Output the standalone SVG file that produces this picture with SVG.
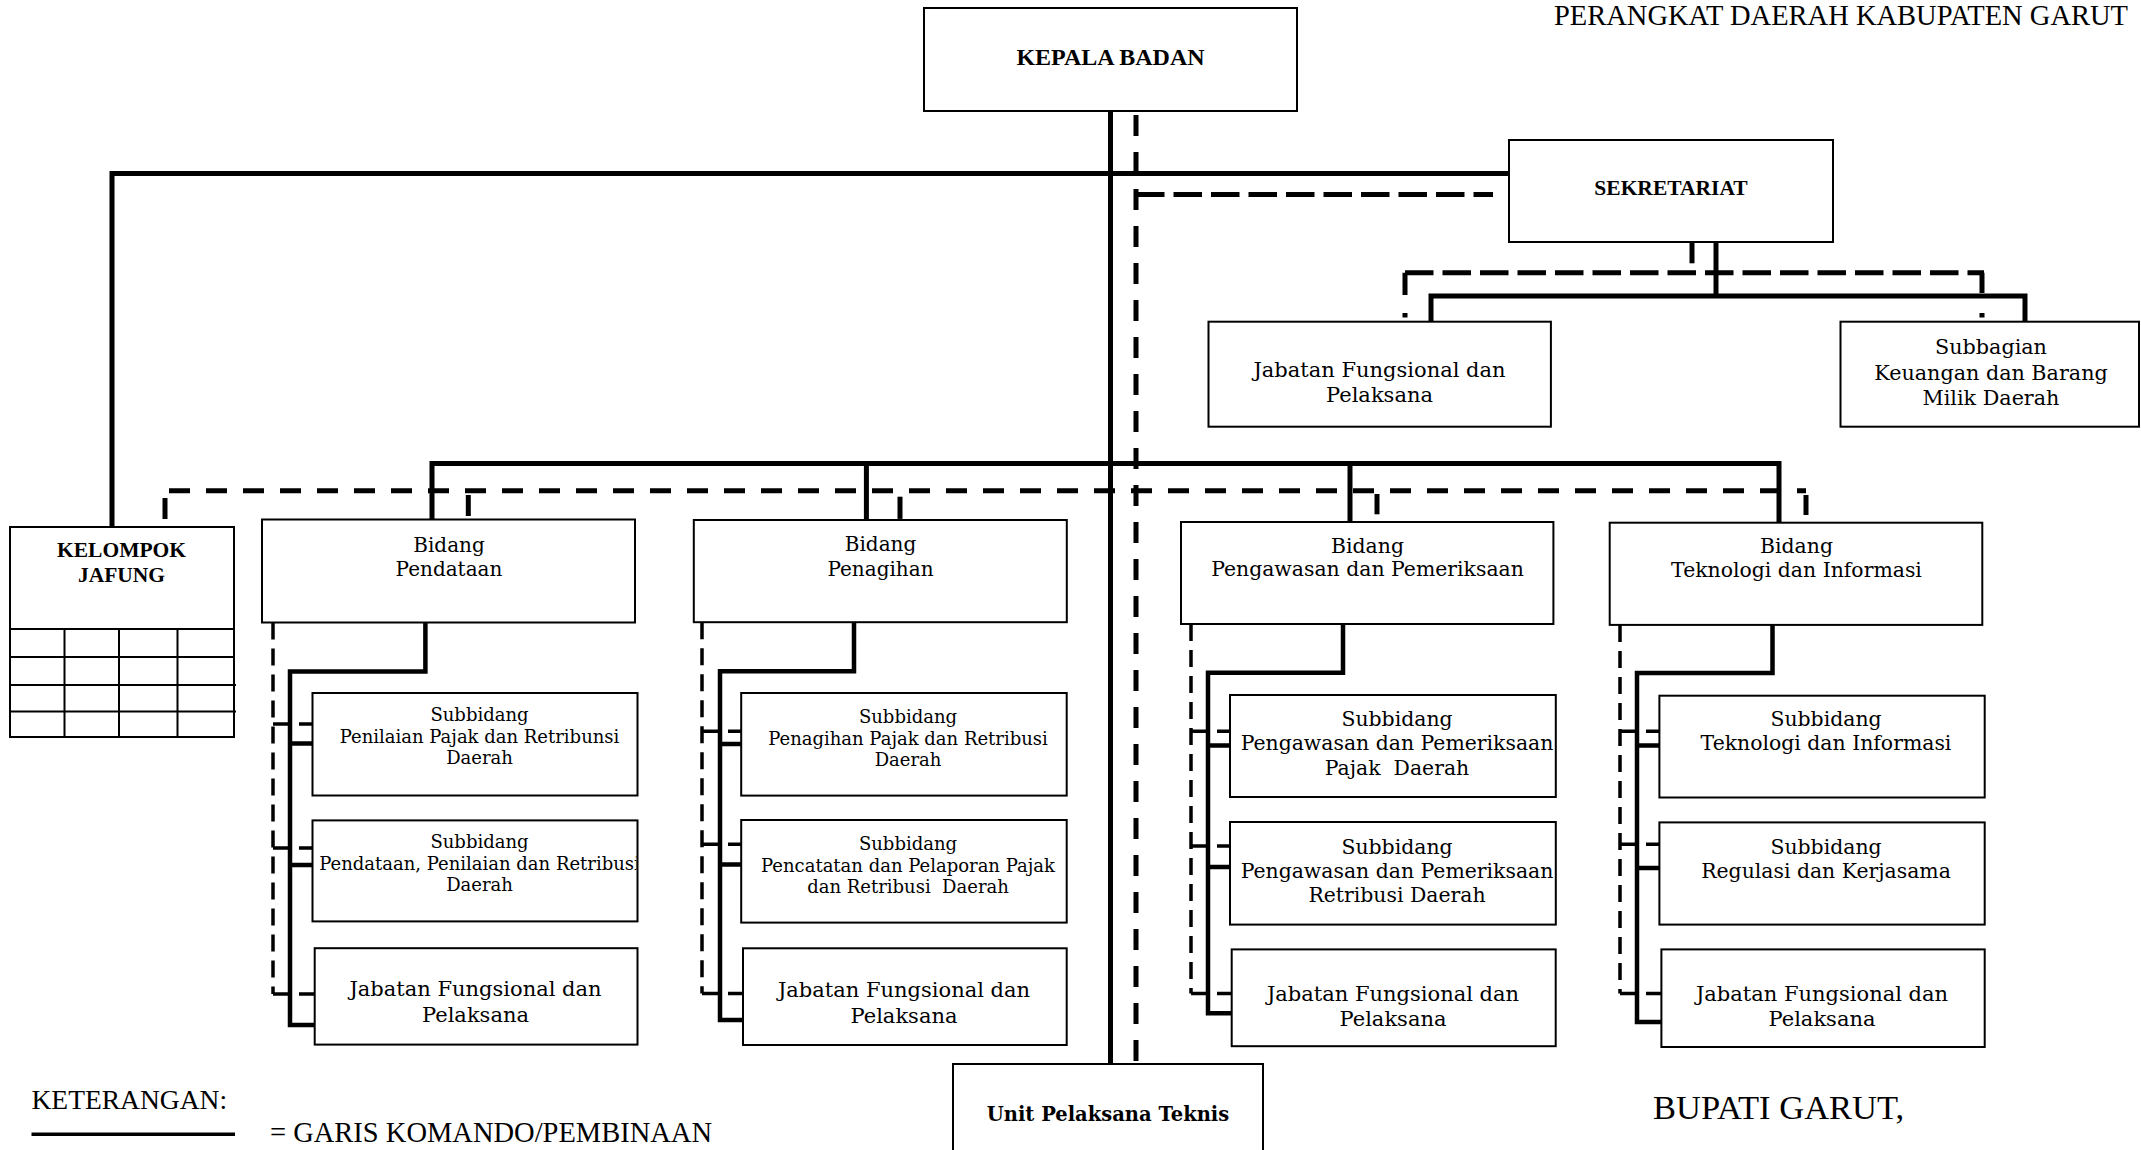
<svg xmlns="http://www.w3.org/2000/svg" width="2141" height="1150" viewBox="0 0 2141 1150">
  <defs>
    <style>
      .box { fill: #fff; stroke: #000; stroke-width: 2; }
      .grid { fill: none; stroke: #000; stroke-width: 2; }
      .cmd { fill: none; stroke: #000; stroke-width: 5; stroke-linejoin: miter; stroke-linecap: butt; }
      .cmd2 { fill: none; stroke: #000; stroke-width: 4.5; stroke-linejoin: miter; }
      .coord { fill: none; stroke: #000; stroke-width: 5; stroke-dasharray: 21 16; }
      .coordS { fill: none; stroke: #000; stroke-width: 5; stroke-dasharray: 28.5 9; }
      .stub { fill: none; stroke: #000; stroke-width: 5; }
      .coord2 { fill: none; stroke: #000; stroke-width: 3.5; stroke-dasharray: 17 9; }
      .tb { font-family: "Liberation Serif", "Times New Roman", serif; font-weight: bold; text-anchor: middle; fill: #000; }
      .tr { font-family: "Liberation Serif", "Times New Roman", serif; fill: #000; }
      .t { font-family: "DejaVu Serif", "Liberation Serif", serif; text-anchor: middle; fill: #000; white-space: pre; }
      .s18 { font-size: 18px; }
      .s20 { font-size: 20px; }
      .s20w { font-size: 20.4px; }
      .s21 { font-size: 21px; }
    </style>
    <clipPath id="clipSub2">
      <rect x="312.5" y="820.4" width="324" height="101"/>
    </clipPath>
  </defs>

  <rect width="2141" height="1150" fill="#fff"/>

  <!-- header -->
  <text class="tr" x="2128" y="25" font-size="28.5" text-anchor="end">PERANGKAT DAERAH KABUPATEN GARUT</text>

  <!-- connectors -->
  <g id="connectors">
    <!-- command lines (solid) -->
    <path class="cmd" d="M1110.5,111 V1064"/>
    <path class="cmd" d="M112,527 V173.5 H1509"/>
    <path class="cmd" d="M432,519.5 V463.5 H1779 V522.7"/>
    <path class="cmd" d="M866.4,463.5 V520"/>
    <path class="cmd" d="M1350,463.5 V522"/>
    <path class="cmd" d="M1716,242 V296"/>
    <path class="cmd" d="M1431,321.7 V296 H2025 V321.7"/>

    <!-- coordination lines (dashed) -->
    <path class="coord" d="M1136,115 V1064"/>
    <path class="coordS" d="M1136,194.5 H1493"/>
    <path class="coord" d="M169,490.7 H1806"/>
    <path class="stub" d="M165,498 V519"/>
    <path class="stub" d="M1806,495 V515"/>
    <path class="stub" d="M468.3,495 V516"/>
    <path class="stub" d="M900,496.7 V518.9"/>
    <path class="stub" d="M1377,494 V514.3"/>
    <path class="stub" d="M1692,242 V263.3"/>
    <path class="coordS" d="M1405,272.7 H1984"/>
    <path class="stub" d="M1405,272.7 V295 M1405,313 V317.5"/>
    <path class="stub" d="M1982,272.7 V293 M1982,313 V317.5"/>

    <!-- Bidang Pendataan branch -->
    <path class="coord2" d="M273,622.5 V994"/>
    <path class="coord2" d="M273,724 H312.5 M273,848 H312.5 M273,994 H314.7"/>
    <path class="cmd2" d="M425.4,622.5 V671.4 H290 V1025 H314.7"/>
    <path class="cmd2" d="M290,743.6 H312.5 M290,865 H312.5"/>

    <!-- Bidang Penagihan branch -->
    <path class="coord2" d="M702,622.2 V993.4"/>
    <path class="coord2" d="M702,731.3 H741.2 M702,844.2 H741.2 M702,993.4 H743"/>
    <path class="cmd2" d="M854,622.2 V671.2 H720 V1020 H743"/>
    <path class="cmd2" d="M720,744 H741.2 M720,864.5 H741.2"/>

    <!-- Bidang Pengawasan dan Pemeriksaan branch -->
    <path class="coord2" d="M1191,624 V993.4"/>
    <path class="coord2" d="M1191,731.3 H1230 M1191,846 H1230 M1191,993.4 H1231.7"/>
    <path class="cmd2" d="M1343,624 V672.7 H1208 V1013.3 H1231.7"/>
    <path class="cmd2" d="M1208,745.4 H1230 M1208,867.1 H1230"/>

    <!-- Bidang Teknologi dan Informasi branch -->
    <path class="coord2" d="M1620,625 V993.4"/>
    <path class="coord2" d="M1620,731.3 H1659.4 M1620,844.2 H1659.4 M1620,993.4 H1661.4"/>
    <path class="cmd2" d="M1772.5,625 V673 H1637 V1022 H1661.4"/>
    <path class="cmd2" d="M1637,745.4 H1659.4 M1637,868 H1659.4"/>
  </g>

  <!-- top level -->
  <g id="kepala-badan">
    <rect class="box" x="924" y="8" width="373" height="103"/>
    <text class="tb" x="1110.5" y="65" font-size="24">KEPALA BADAN</text>
  </g>

  <g id="sekretariat">
    <rect class="box" x="1509" y="140" width="324" height="102"/>
    <text class="tb" x="1671" y="195" font-size="21.5">SEKRETARIAT</text>
  </g>

  <g id="sekretariat-jabatan">
    <rect class="box" x="1208.5" y="321.7" width="342.4" height="105"/>
    <text class="t s21" x="1379.5" y="376.7">Jabatan Fungsional dan</text>
    <text class="t s21" x="1379.5" y="401.7">Pelaksana</text>
  </g>

  <g id="subbagian-keuangan">
    <rect class="box" x="1840.5" y="321.7" width="298.5" height="105"/>
    <text class="t" font-size="20.7" x="1991" y="354">Subbagian</text>
    <text class="t" font-size="20.7" x="1991" y="380">Keuangan dan Barang</text>
    <text class="t" font-size="20.7" x="1991" y="405">Milik Daerah</text>
  </g>

  <!-- functional group -->
  <g id="kelompok-jafung">
    <rect class="box" x="10" y="527" width="224" height="210"/>
    <path class="grid" d="M10,629 H234 M10,657 H234 M10,685 H236 M10,711.5 H236 M64.5,629 V737 M119,629 V737 M177.5,629 V737"/>
    <text class="tb" x="121.5" y="557" font-size="21.5">KELOMPOK</text>
    <text class="tb" x="121.5" y="582" font-size="21.5">JAFUNG</text>
  </g>

  <!-- Bidang Pendataan -->
  <g id="bidang-pendataan">
    <rect class="box" x="262" y="519.5" width="373" height="103"/>
    <text class="t s20" x="449" y="551.8">Bidang</text>
    <text class="t s20" x="449" y="575.7">Pendataan</text>
  </g>
  <g id="subbidang-penilaian">
    <rect class="box" x="312.5" y="693" width="325" height="102.5"/>
    <text class="t s18" x="479.5" y="721.4">Subbidang</text>
    <text class="t s18" x="479.5" y="742.9">Penilaian Pajak dan Retribunsi</text>
    <text class="t s18" x="479.5" y="764.3">Daerah</text>
  </g>
  <g id="subbidang-pendataan">
    <rect class="box" x="312.5" y="820.4" width="325" height="101"/>
    <text class="t s18" x="479.5" y="848.2">Subbidang</text>
    <text class="t s18" x="479.5" y="869.6" clip-path="url(#clipSub2)">Pendataan, Penilaian dan Retribusi</text>
    <text class="t s18" x="479.5" y="891">Daerah</text>
  </g>
  <g id="jabatan-pendataan">
    <rect class="box" x="314.7" y="948.2" width="322.8" height="96.4"/>
    <text class="t s21" x="475.5" y="996.4">Jabatan Fungsional dan</text>
    <text class="t s21" x="475.5" y="1022">Pelaksana</text>
  </g>

  <!-- Bidang Penagihan -->
  <g id="bidang-penagihan">
    <rect class="box" x="693.8" y="520" width="373" height="102.2"/>
    <text class="t s20" x="880.5" y="551.4">Bidang</text>
    <text class="t s20" x="880.5" y="575.5">Penagihan</text>
  </g>
  <g id="subbidang-penagihan">
    <rect class="box" x="741.2" y="693" width="325.5" height="102.6"/>
    <text class="t s18" x="908" y="722.5">Subbidang</text>
    <text class="t s18" x="908" y="744.7">Penagihan Pajak dan Retribusi</text>
    <text class="t s18" x="908" y="766.1">Daerah</text>
  </g>
  <g id="subbidang-pencatatan">
    <rect class="box" x="741.2" y="820" width="325.5" height="102.6"/>
    <text class="t s18" x="908" y="850">Subbidang</text>
    <text class="t s18" x="908" y="871.7">Pencatatan dan Pelaporan Pajak</text>
    <text class="t s18" x="908" y="893.2">dan Retribusi  Daerah</text>
  </g>
  <g id="jabatan-penagihan">
    <rect class="box" x="743" y="948.3" width="323.7" height="96.7"/>
    <text class="t s21" x="904" y="997.3">Jabatan Fungsional dan</text>
    <text class="t s21" x="904" y="1023.3">Pelaksana</text>
  </g>

  <!-- Bidang Pengawasan dan Pemeriksaan -->
  <g id="bidang-pengawasan">
    <rect class="box" x="1181" y="522" width="372.4" height="102"/>
    <text class="t s20w" x="1367.5" y="552.6">Bidang</text>
    <text class="t s20w" x="1367.5" y="576.3">Pengawasan dan Pemeriksaan</text>
  </g>
  <g id="subbidang-pengawasan-pajak">
    <rect class="box" x="1230" y="695" width="325.8" height="102"/>
    <text class="t s20w" x="1397" y="726.3">Subbidang</text>
    <text class="t s20w" x="1397" y="750.4">Pengawasan dan Pemeriksaan</text>
    <text class="t s20w" x="1397" y="775.3">Pajak  Daerah</text>
  </g>
  <g id="subbidang-pengawasan-retribusi">
    <rect class="box" x="1230" y="822" width="325.8" height="102.6"/>
    <text class="t s20w" x="1397" y="853.7">Subbidang</text>
    <text class="t s20w" x="1397" y="877.9">Pengawasan dan Pemeriksaan</text>
    <text class="t s20w" x="1397" y="902.3">Retribusi Daerah</text>
  </g>
  <g id="jabatan-pengawasan">
    <rect class="box" x="1231.7" y="949.4" width="324" height="96.8"/>
    <text class="t s21" x="1393" y="1001">Jabatan Fungsional dan</text>
    <text class="t s21" x="1393" y="1026">Pelaksana</text>
  </g>

  <!-- Bidang Teknologi dan Informasi -->
  <g id="bidang-teknologi">
    <rect class="box" x="1609.7" y="522.7" width="372.6" height="102.2"/>
    <text class="t s20w" x="1796.5" y="553.3">Bidang</text>
    <text class="t s20w" x="1796.5" y="577.4">Teknologi dan Informasi</text>
  </g>
  <g id="subbidang-teknologi">
    <rect class="box" x="1659.4" y="695.7" width="325.3" height="101.8"/>
    <text class="t s20w" x="1826" y="726.3">Subbidang</text>
    <text class="t s20w" x="1826" y="750.4">Teknologi dan Informasi</text>
  </g>
  <g id="subbidang-regulasi">
    <rect class="box" x="1659.4" y="822.4" width="325.3" height="102.2"/>
    <text class="t s20w" x="1826" y="853.7">Subbidang</text>
    <text class="t s20w" x="1826" y="877.9">Regulasi dan Kerjasama</text>
  </g>
  <g id="jabatan-teknologi">
    <rect class="box" x="1661.4" y="949.4" width="323.3" height="97.6"/>
    <text class="t s21" x="1822" y="1001">Jabatan Fungsional dan</text>
    <text class="t s21" x="1822" y="1026">Pelaksana</text>
  </g>

  <!-- technical unit -->
  <g id="unit-pelaksana-teknis">
    <rect class="box" x="953" y="1064" width="310" height="100"/>
    <text class="t" x="1108" y="1121" font-size="19.5" font-weight="bold">Unit Pelaksana Teknis</text>
  </g>

  <!-- legend -->
  <g id="legend">
    <text class="tr" x="31.5" y="1108.5" font-size="27.5">KETERANGAN:</text>
    <path d="M31.5,1134.3 H235" stroke="#000" stroke-width="3.5" fill="none"/>
    <text class="tr" x="270" y="1141.7" font-size="28.5">= GARIS KOMANDO/PEMBINAAN</text>
  </g>

  <!-- signature -->
  <text class="tr" x="1653" y="1119" font-size="34.5">BUPATI GARUT,</text>
</svg>
